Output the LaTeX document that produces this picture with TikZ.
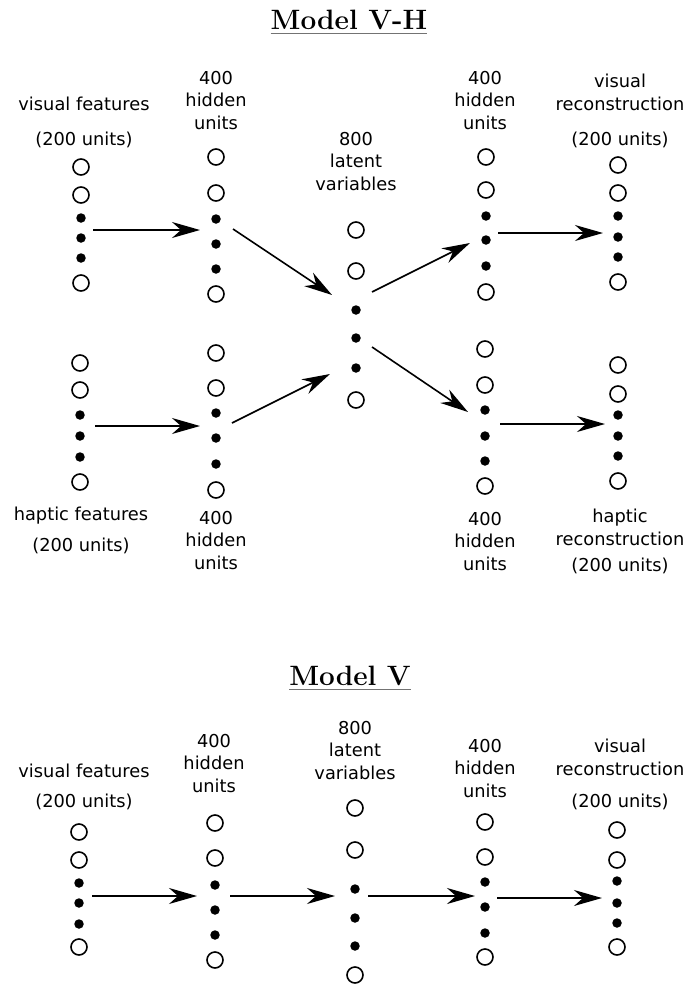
\documentclass[tikz,border=0pt]{standalone}
\usepackage{fontspec}
\newfontfamily\labelfamily{DejaVu Sans}
\usetikzlibrary{arrows.meta}

% one layer of units: two open units, three dots, one open unit
% #1 name, #2 x, #3..#8 the six y positions
\newcommand{\unitcolumn}[8]{%
  \node[unit]    (#1-1) at (#2,#3) {};
  \node[unit]    (#1-2) at (#2,#4) {};
  \node[dotunit] (#1-3) at (#2,#5) {};
  \node[dotunit] (#1-4) at (#2,#6) {};
  \node[dotunit] (#1-5) at (#2,#7) {};
  \node[unit]    (#1-6) at (#2,#8) {};
}

\begin{document}
\begin{tikzpicture}[x=1pt,y=-1pt,
  unit/.style={circle,draw,line width=1.6pt,minimum size=16pt,inner sep=0pt},
  dotunit/.style={circle,fill,minimum size=9.5pt,inner sep=0pt},
  flow/.style={line width=1.6pt,-{Stealth[length=28pt,width=16pt,inset=9pt]}},
  lbl/.style={font=\labelfamily\fontsize{17.8}{22.3}\selectfont,align=center,inner sep=0pt,anchor=north},
  heading/.style={font=\fontsize{28}{32}\selectfont\bfseries,inner sep=0pt,anchor=base},
  headrule/.style={draw=black!55,line width=1.8pt}]

\useasboundingbox[fill=white] (0,0) rectangle (699,988);

% ---------------- Model V-H ----------------
\node[heading] (tvh) at (349,29) {Model V-H};
\draw[headrule] ([yshift=-4.5pt]tvh.base west) -- ([yshift=-4.5pt]tvh.base east);

\unitcolumn{vhA}{81}{167}{195}{218}{238}{258}{283}
\unitcolumn{vhB}{216}{157}{193}{219}{244}{269}{294}
\unitcolumn{vhC}{356}{230}{271}{310}{338}{368}{400}
\unitcolumn{vhD}{486}{157}{190}{216}{240}{266}{292}
\unitcolumn{vhE}{618}{165}{193}{216}{237}{257}{282}
\unitcolumn{vhF}{80}{363}{390}{415}{436}{457}{482}
\unitcolumn{vhG}{216}{353}{388}{413}{438}{464}{490}
\unitcolumn{vhH}{485}{349}{385}{410}{436}{461}{486}
\unitcolumn{vhI}{618}{365}{394}{415}{436}{456}{481}

\node[lbl] (lvhA) at (84,97)   {visual features\\[12pt](200 units)};
\node[lbl] (lvhB) at (216,71)  {400\\hidden\\units};
\node[lbl] (lvhC) at (356,132) {800\\latent\\variables};
\node[lbl] (lvhD) at (485,71)  {400\\hidden\\units};
\node[lbl] (lvhE) at (620,74)  {visual\\reconstruction\\[13pt](200 units)};
\node[lbl] (lvhF) at (81,507)  {haptic features\\[8pt](200 units)};
\node[lbl] (lvhG) at (216,511) {400\\hidden\\units};
\node[lbl] (lvhH) at (485,512) {400\\hidden\\units};
\node[lbl] (lvhI) at (620,509) {haptic\\reconstruction\\[4pt](200 units)};

\coordinate (e1s) at (93,230);  \coordinate (e1e) at (200,230);
\coordinate (e2s) at (233,229); \coordinate (e2e) at (332,295);
\coordinate (e3s) at (95,426);  \coordinate (e3e) at (200,426);
\coordinate (e4s) at (232,423); \coordinate (e4e) at (330,374);
\coordinate (e5s) at (372,292); \coordinate (e5e) at (470,243);
\coordinate (e6s) at (372,347); \coordinate (e6e) at (468,412);
\coordinate (e7s) at (498,233); \coordinate (e7e) at (603,233);
\coordinate (e8s) at (500,424); \coordinate (e8e) at (605,424);
\foreach \k in {1,...,8} \draw[flow] (e\k s) -- (e\k e);

% ---------------- Model V ----------------
\node[heading] (tmv) at (350,685) {Model V};
\draw[headrule] ([yshift=-4.5pt]tmv.base west) -- ([yshift=-4.5pt]tmv.base east);

\unitcolumn{mvA}{79}{832}{860}{883}{903}{924}{947}
\unitcolumn{mvB}{215}{823}{858}{885}{910}{935}{960}
\unitcolumn{mvC}{355}{808}{850}{889}{918}{946}{975}
\unitcolumn{mvD}{485}{822}{857}{882}{907}{933}{957}
\unitcolumn{mvE}{617}{830}{860}{881}{903}{923}{947}

\node[lbl] (lmvA) at (84,764)  {visual features\\[7.5pt](200 units)};
\node[lbl] (lmvB) at (214,734) {400\\hidden\\units};
\node[lbl] (lmvC) at (355,721) {800\\latent\\variables};
\node[lbl] (lmvD) at (485,739) {400\\hidden\\units};
\node[lbl] (lmvE) at (620,739) {visual\\reconstruction\\[10.5pt](200 units)};

\coordinate (m1s) at (92,896);  \coordinate (m1e) at (197,896);
\coordinate (m2s) at (230,896); \coordinate (m2e) at (335,896);
\coordinate (m3s) at (368,896); \coordinate (m3e) at (475,896);
\coordinate (m4s) at (497,898); \coordinate (m4e) at (602,898);
\foreach \k in {1,...,4} \draw[flow] (m\k s) -- (m\k e);
\end{tikzpicture}
\end{document}
